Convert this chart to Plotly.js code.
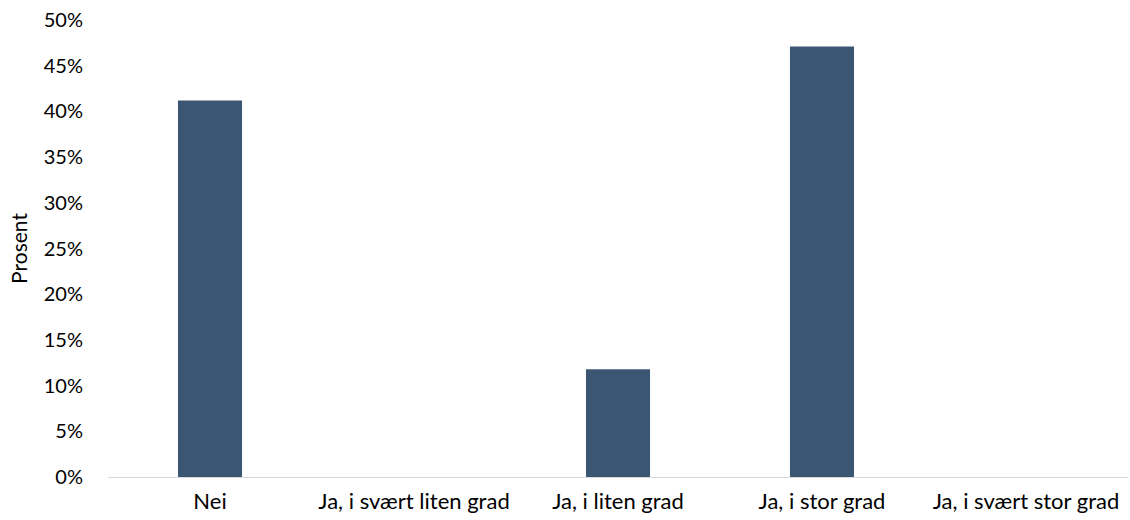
<!DOCTYPE html>
<html>
<head>
<meta charset="utf-8">
<script src="https://cdn.plot.ly/plotly-3.0.1.min.js"></script>
<style>
  html, body { margin: 0; padding: 0; background: #fff; }
  #chart { width: 1130px; height: 520px; }
</style>
</head>
<body>
<div id="chart"></div>
<script>
// Svarkategorier og andeler (prosent)
const categories = ['Nei', 'Ja, i svært liten grad', 'Ja, i liten grad', 'Ja, i stor grad', 'Ja, i svært stor grad'];
const shares = [0.412, 0, 0.118, 0.471, 0];
const tickValues = [0, 0.05, 0.1, 0.15, 0.2, 0.25, 0.3, 0.35, 0.4, 0.45, 0.5];

var data = [{
    x: categories,
    y: shares,
    type: 'bar',
    marker: { color: '#3B5673' },
    hoverinfo: 'x+y'
}];

var layout = {
    width: 1130,
    height: 520,
    margin: { l: 108, r: 2, t: 20, b: 43 },
    paper_bgcolor: '#ffffff',
    plot_bgcolor: '#ffffff',
    font: { family: 'Lato, "Open Sans", sans-serif', size: 21, color: '#000000' },
    bargap: 0.686,
    showlegend: false,
    xaxis: {
        type: 'category',
        showline: true,
        linecolor: '#D9D9D9',
        linewidth: 1,
        showgrid: false,
        zeroline: false,
        ticks: 'outside',
        ticklen: 5,
        tickcolor: 'rgba(0,0,0,0)',
        tickfont: { size: 22 }
    },
    yaxis: {
        range: [0, 0.5],
        tickvals: tickValues,
        tickformat: '.0%',
        showgrid: false,
        zeroline: false,
        showline: false,
        ticks: 'outside',
        ticklen: 20,
        tickcolor: 'rgba(0,0,0,0)',
        tickfont: { size: 20 },
        title: { text: 'Prosent', font: { size: 21 }, standoff: 10 }
    }
};

Plotly.newPlot('chart', data, layout, { displayModeBar: false, staticPlot: true });
</script>
</body>
</html>
